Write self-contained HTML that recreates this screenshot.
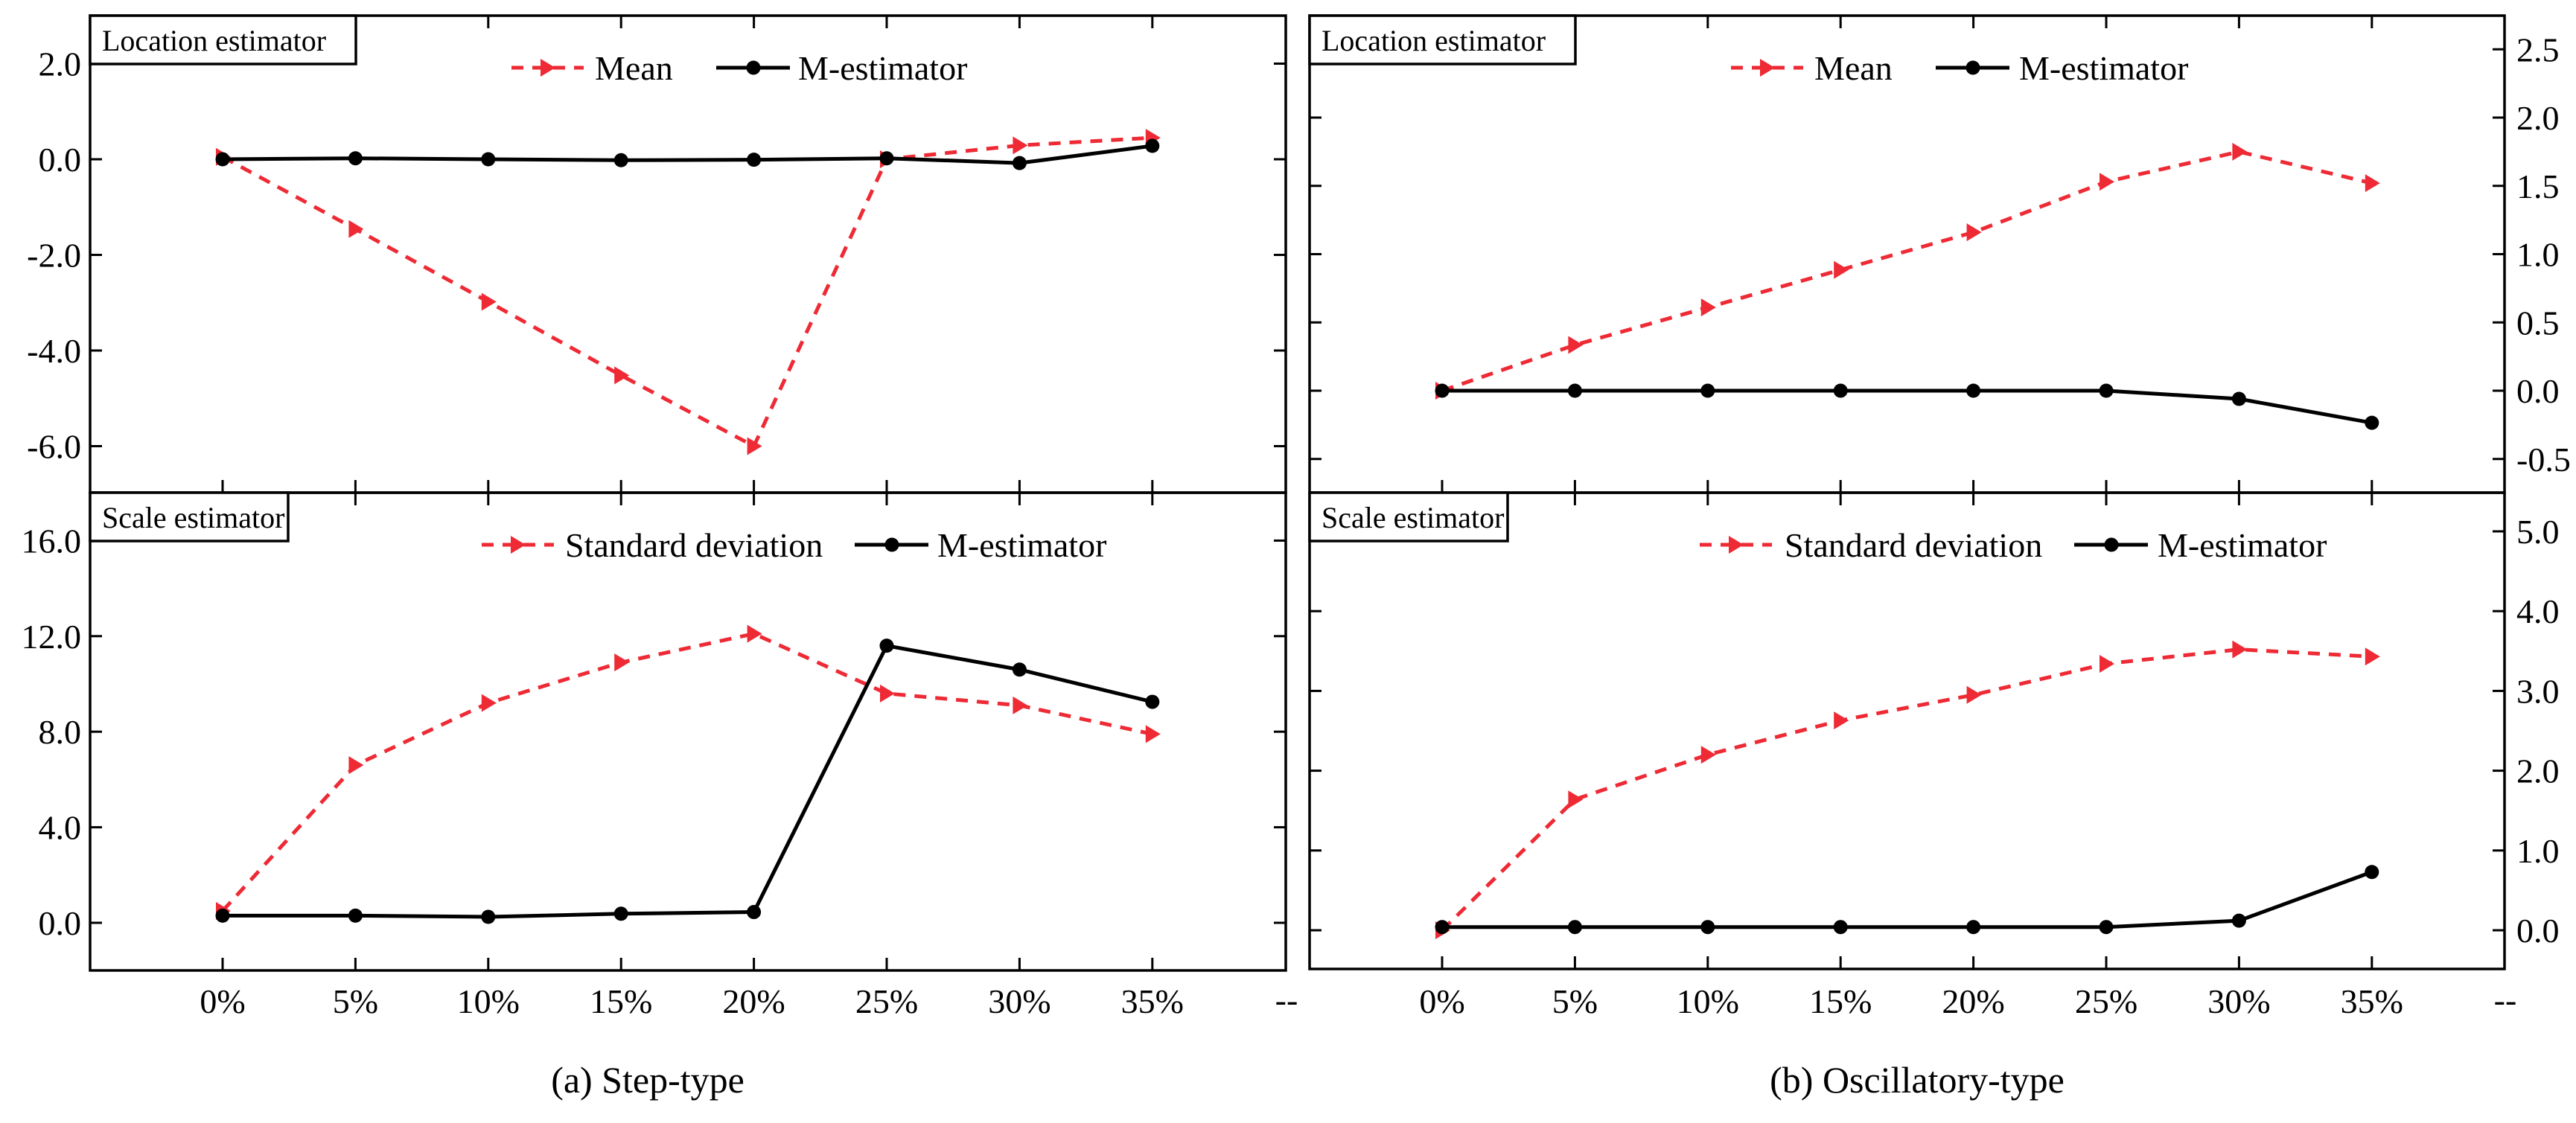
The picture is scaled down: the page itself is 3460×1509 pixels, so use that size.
<!DOCTYPE html>
<html><head><meta charset="utf-8">
<style>
html,body{margin:0;padding:0;background:#fff;}
svg, svg text{font-family:"Liberation Serif","Times New Roman",serif;}
</style></head>
<body>
<svg id="chart" width="3460" height="1504" viewBox="0 0 3460 1504" xmlns="http://www.w3.org/2000/svg">
<g id="root" font-family="Liberation Serif, serif"></g>
</svg>
<script>
const categories = ["0%","5%","10%","15%","20%","25%","30%","35%"];
const stepMean = [0.05,-1.46,-2.98,-4.52,-6.0,0.0,0.29,0.45];
const stepLocM = [0.0,0.02,0.0,-0.02,-0.01,0.02,-0.08,0.28];
const stepSD = [0.5,6.6,9.2,10.9,12.1,9.6,9.1,7.9];
const stepScaleM = [0.3,0.3,0.25,0.38,0.45,11.6,10.6,9.25];
const oscMean = [0.0,0.335,0.61,0.885,1.16,1.53,1.75,1.52];
const oscLocM = [0.0,0.0,0.0,0.0,0.0,0.0,-0.06,-0.235];
const oscSD = [0.0,1.64,2.2,2.63,2.95,3.34,3.52,3.43];
const oscScaleM = [0.04,0.04,0.04,0.04,0.04,0.04,0.12,0.73];
const stepLocTicks = [2.0,0.0,-2.0,-4.0,-6.0];
const stepScaleTicks = [16.0,12.0,8.0,4.0,0.0];
const oscLocTicks = [2.5,2.0,1.5,1.0,0.5,0.0,-0.5];
const oscScaleTicks = [5.0,4.0,3.0,2.0,1.0,0.0];

const NS="http://www.w3.org/2000/svg";
const root=document.getElementById('root');
const FF='Liberation Serif, serif';
function mk(tag,attrs,parent){const e=document.createElementNS(NS,tag);for(const k in attrs)e.setAttribute(k,attrs[k]);if(tag==='text')e.setAttribute('font-family',FF);(parent||root).appendChild(e);return e;}

function panel(o){
  const g=mk('g',{});
  
  
  const xs=i=>o.x0+i*o.dx;
  const ys=v=>o.y0-v*o.k;
  const fr=mk('rect',{x:o.L,y:o.T,width:o.R-o.L,height:o.B-o.T,fill:'none',stroke:'#000','stroke-width':3.5},g);
  
  
  o.ticks.forEach(t=>{
    const y=ys(t);
    mk('line',{x1:o.L,x2:o.L+16,y1:y,y2:y,stroke:'#000','stroke-width':3},g);
    mk('line',{x1:o.R-16,x2:o.R,y1:y,y2:y,stroke:'#000','stroke-width':3},g);
    if(o.labels){
      const tx=mk('text',{x:o.labelRight?o.R+16:o.L-12,y:y+16,'font-size':46,'text-anchor':o.labelRight?'start':'end'},g);
      tx.textContent=t.toFixed(1);
      
      
    }
  });
  categories.forEach((c,i)=>{
    const x=xs(i);
    mk('line',{x1:x,x2:x,y1:o.T,y2:o.T+17,stroke:'#000','stroke-width':3},g);
    mk('line',{x1:x,x2:x,y1:o.B-17,y2:o.B,stroke:'#000','stroke-width':3},g);
  });
  const bx=mk('rect',{x:o.L,y:o.T,width:o.boxW,height:65,fill:'#fff',stroke:'#000','stroke-width':3.5},g);
  
  
  const bt=mk('text',{x:o.L+16,y:o.T+47,'font-size':40},g);
  bt.textContent=o.title;
  
  
  const rp=o.red.map((v,i)=>xs(i)+','+ys(v)).join(' ');
  const rl=mk('polyline',{points:rp,fill:'none',stroke:'#ee2a35','stroke-width':5,'stroke-dasharray':'16 12'},g);
  
  
  o.red.forEach((v,i)=>{
    const x=xs(i),y=ys(v);
    const m=mk('polygon',{points:`${x-9},${y-12} ${x+11},${y} ${x-9},${y+12}`,fill:'#ee2a35'},g);
    
    
  });
  const bp=o.black.map((v,i)=>xs(i)+','+ys(v)).join(' ');
  const bl=mk('polyline',{points:bp,fill:'none',stroke:'#000','stroke-width':5},g);
  
  
  o.black.forEach((v,i)=>{
    const c=mk('circle',{cx:xs(i),cy:ys(v),r:9.5,fill:'#000'},g);
    
    
  });
  const ly=o.ly;
  const l1=mk('line',{x1:o.lg[0],x2:o.lg[0]+97,y1:ly,y2:ly,stroke:'#ee2a35','stroke-width':5,'stroke-dasharray':'16 12'},g);
  
  
  const cx=o.lg[0]+48;
  mk('polygon',{points:`${cx-9},${ly-12} ${cx+11},${ly} ${cx-9},${ly+12}`,fill:'#ee2a35'},g);
  const t1=mk('text',{x:o.lg[1],y:ly+16,'font-size':46},g);
  t1.textContent=o.redName;
  
  
  const l2=mk('line',{x1:o.lg[2],x2:o.lg[2]+99,y1:ly,y2:ly,stroke:'#000','stroke-width':5},g);
  
  
  mk('circle',{cx:o.lg[2]+50,cy:ly,r:9.5,fill:'#000'},g);
  const t2=mk('text',{x:o.lg[3],y:ly+16,'font-size':46},g);
  t2.textContent='M-estimator';
  
  
}

panel({name:'step-location-panel',L:121,R:1727,T:21,B:662,x0:299,dx:178.4,y0:214,k:64.25,ticks:stepLocTicks,labels:true,labelRight:false,title:'Location estimator',boxW:357,red:stepMean,black:stepLocM,redName:'Mean',ly:91,lg:[687,799,962,1072]});
panel({name:'step-scale-panel',L:121,R:1727,T:662,B:1304,x0:299,dx:178.4,y0:1240,k:32.1,ticks:stepScaleTicks,labels:true,labelRight:false,title:'Scale estimator',boxW:266,red:stepSD,black:stepScaleM,redName:'Standard deviation',ly:732,lg:[647,759,1148,1259]});
panel({name:'osc-location-panel',L:1759,R:3364,T:21,B:662,x0:1937,dx:178.4,y0:525,k:183.5,ticks:oscLocTicks,labels:true,labelRight:true,title:'Location estimator',boxW:357,red:oscMean,black:oscLocM,redName:'Mean',ly:91,lg:[2325,2437,2600,2712]});
panel({name:'osc-scale-panel',L:1759,R:3364,T:662,B:1302,x0:1937,dx:178.4,y0:1250,k:107.2,ticks:oscScaleTicks,labels:true,labelRight:true,title:'Scale estimator',boxW:266,red:oscSD,black:oscScaleM,redName:'Standard deviation',ly:732,lg:[2283,2397,2786,2898]});

[299,1937].forEach(x0=>{
  categories.forEach((c,i)=>{
    const t=mk('text',{x:x0+i*178.4,y:1361,'font-size':46,'text-anchor':'middle'});
    t.textContent=c;
    
    
  });
});
[1728,3365].forEach(x=>{
  const t=mk('text',{x:x,y:1359,'font-size':46,'text-anchor':'middle'});
  t.textContent='--';
  
  
});
const c1=mk('text',{x:870,y:1468,'font-size':50,'text-anchor':'middle'});
c1.textContent='(a) Step-type';


const c2=mk('text',{x:2575,y:1468,'font-size':50,'text-anchor':'middle'});
c2.textContent='(b) Oscillatory-type';


</script>
</body></html>
